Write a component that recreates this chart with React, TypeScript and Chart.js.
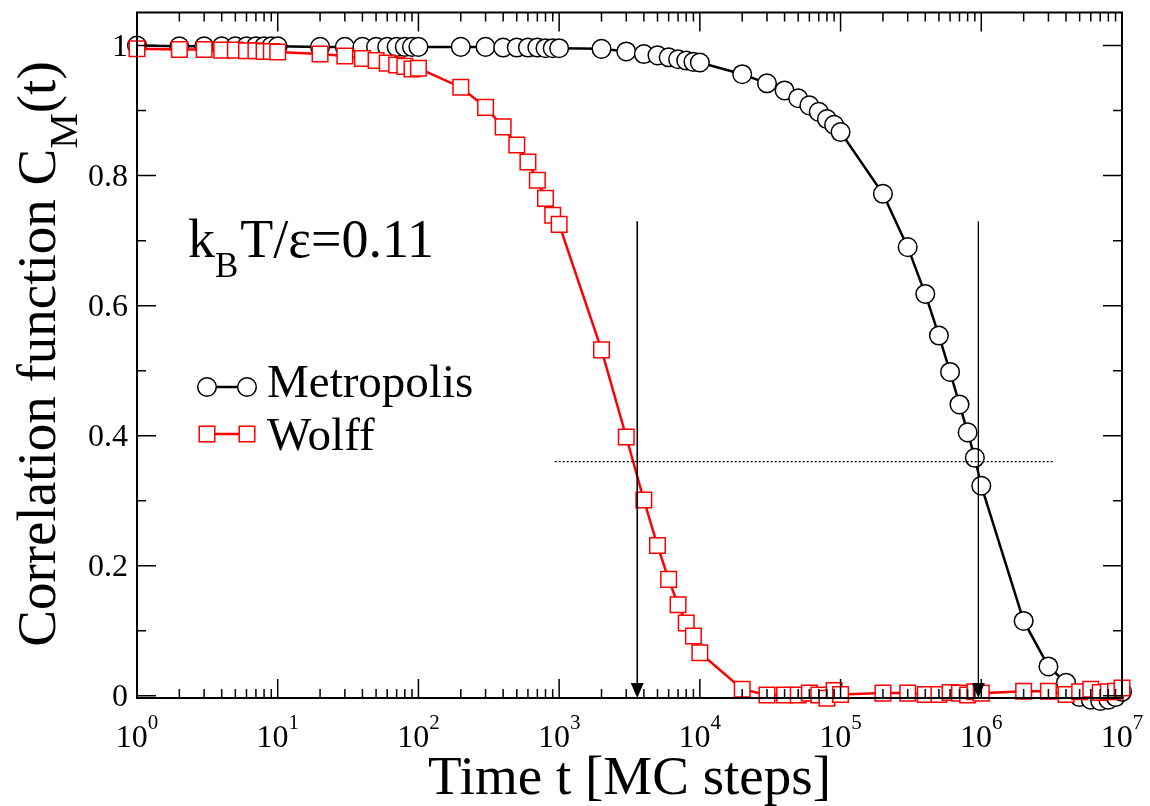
import React, { useEffect, useRef } from "react";
import { Chart, registerables } from "chart.js";

Chart.register(...registerables);

// Time steps (MC steps)
const times: number[] = [
  1, 2, 3, 4, 5, 6, 7, 8, 9, 10,
  20, 30, 40, 50, 60, 70, 80, 90, 100,
  200, 300, 400, 500, 600, 700, 800, 900, 1000,
  2000, 3000, 4000, 5000, 6000, 7000, 8000, 9000, 10000,
  20000, 30000, 40000, 50000, 60000, 70000, 80000, 90000, 100000,
  200000, 300000, 400000, 500000, 600000, 700000, 800000, 900000, 1000000,
  2000000, 3000000, 4000000, 5000000, 6000000, 7000000, 8000000, 9000000, 10000000,
];

const metropolis: number[] = [
  1.0, 0.999, 0.999, 0.999, 0.999, 0.999, 0.999, 0.999, 0.999, 0.999,
  0.998, 0.998, 0.998, 0.998, 0.998, 0.998, 0.998, 0.998, 0.998,
  0.998, 0.998, 0.997, 0.997, 0.997, 0.997, 0.996, 0.996, 0.996,
  0.995, 0.991, 0.987, 0.985, 0.982, 0.979, 0.977, 0.975, 0.974,
  0.956, 0.942, 0.931, 0.919, 0.908, 0.898, 0.887, 0.878, 0.867,
  0.772, 0.690, 0.618, 0.554, 0.498, 0.448, 0.405, 0.366, 0.323,
  0.115, 0.045, 0.020, -0.002, -0.006, -0.008, -0.006, -0.002, 0.006,
];

const wolff: number[] = [
  0.995, 0.994, 0.994, 0.993, 0.993, 0.992, 0.992, 0.991, 0.991, 0.990,
  0.987, 0.984, 0.980, 0.977, 0.973, 0.970, 0.968, 0.964, 0.965,
  0.936, 0.905, 0.875, 0.847, 0.821, 0.793, 0.765, 0.739, 0.725,
  0.532, 0.398, 0.301, 0.231, 0.179, 0.140, 0.112, 0.092, 0.066,
  0.010, 0.001, 0.001, 0.001, 0.004, 0.001, -0.004, 0.008, 0.002,
  0.004, 0.004, 0.002, 0.002, 0.005, 0.004, 0.001, 0.006, 0.004,
  0.007, 0.007, 0.002, 0.006, 0.010, 0.005, 0.006, 0.007, 0.012,
];

// Annotations (in data units)
const arrowTimes: number[] = [3590, 953000];
const arrowTop = 0.73;
const arrowTip = -0.0035;
const thresholdValue = 0.36;
const thresholdFrom = 930;
const thresholdTo = 3250000;

// Axis ticks
const xExponents: number[] = [0, 1, 2, 3, 4, 5, 6, 7];
const yTickValues: number[] = [0, 0.2, 0.4, 0.6, 0.8, 1.0];
const yTickLabels: string[] = ["0", "0.2", "0.4", "0.6", "0.8", "1"];
const yMinorValues: number[] = [0.1, 0.3, 0.5, 0.7, 0.9];

const seriesNames: string[] = ["Metropolis", "Wolff"];

const SERIF = '"Liberation Serif", "Times New Roman", serif';

const decorPlugin = {
  id: "decor",
  afterDatasetsDraw(chart: any) {
    const ctx: CanvasRenderingContext2D = chart.ctx;
    const xs = chart.scales.x;
    const ys = chart.scales.y;
    const { left, right, top, bottom } = chart.chartArea;
    ctx.save();

    // threshold dotted line
    ctx.strokeStyle = "#000";
    ctx.lineWidth = 1.3;
    ctx.setLineDash([2, 2]);
    const ty = ys.getPixelForValue(thresholdValue);
    ctx.beginPath();
    ctx.moveTo(xs.getPixelForValue(thresholdFrom), ty);
    ctx.lineTo(xs.getPixelForValue(thresholdTo), ty);
    ctx.stroke();
    ctx.setLineDash([]);

    // arrows
    const arrowWidths = [1.6, 1.3];
    arrowTimes.forEach((t, i) => {
      const x = xs.getPixelForValue(t);
      const y0 = ys.getPixelForValue(arrowTop);
      const y1 = ys.getPixelForValue(arrowTip);
      ctx.lineWidth = arrowWidths[i];
      ctx.beginPath();
      ctx.moveTo(x, y0);
      ctx.lineTo(x, y1 - 10);
      ctx.stroke();
      ctx.fillStyle = "#000";
      ctx.beginPath();
      ctx.moveTo(x - 6.5, y1 - 15);
      ctx.lineTo(x + 6.5, y1 - 15);
      ctx.lineTo(x, y1);
      ctx.closePath();
      ctx.fill();
    });

    // frame
    ctx.lineWidth = 2;
    ctx.strokeStyle = "#000";
    ctx.strokeRect(left, top, right - left, bottom - top);

    // x ticks (log)
    ctx.lineWidth = 1.5;
    ctx.beginPath();
    xExponents.forEach((e) => {
      const x = xs.getPixelForValue(Math.pow(10, e));
      ctx.moveTo(x, bottom);
      ctx.lineTo(x, bottom - 19);
      ctx.moveTo(x, top);
      ctx.lineTo(x, top + 19);
      if (e < 7) {
        for (let m = 2; m <= 9; m++) {
          const xm = xs.getPixelForValue(m * Math.pow(10, e));
          ctx.moveTo(xm, bottom);
          ctx.lineTo(xm, bottom - 9);
          ctx.moveTo(xm, top);
          ctx.lineTo(xm, top + 9);
        }
      }
    });
    // y ticks
    yTickValues.forEach((v) => {
      const y = ys.getPixelForValue(v);
      ctx.moveTo(left, y);
      ctx.lineTo(left + 19, y);
      ctx.moveTo(right, y);
      ctx.lineTo(right - 19, y);
    });
    yMinorValues.forEach((v) => {
      const y = ys.getPixelForValue(v);
      ctx.moveTo(left, y);
      ctx.lineTo(left + 9, y);
      ctx.moveTo(right, y);
      ctx.lineTo(right - 9, y);
    });
    ctx.stroke();

    // y tick labels
    ctx.fillStyle = "#000";
    ctx.font = `32px ${SERIF}`;
    ctx.textAlign = "right";
    ctx.textBaseline = "alphabetic";
    yTickValues.forEach((v, i) => {
      const y = ys.getPixelForValue(v);
      ctx.fillText(yTickLabels[i], left - 9, y + 10.5);
    });

    // x tick labels 10^e
    ctx.textAlign = "left";
    xExponents.forEach((e) => {
      const x = xs.getPixelForValue(Math.pow(10, e));
      ctx.font = `32px ${SERIF}`;
      const wb = ctx.measureText("10").width;
      ctx.font = `21px ${SERIF}`;
      const we = ctx.measureText(String(e)).width;
      const sx = x - (wb + we) / 2;
      ctx.font = `32px ${SERIF}`;
      ctx.fillText("10", sx, 747);
      ctx.font = `21px ${SERIF}`;
      ctx.fillText(String(e), sx + wb, 729);
    });

    // x axis title
    ctx.font = `55px ${SERIF}`;
    ctx.textAlign = "center";
    ctx.fillText("Time t [MC steps]", (left + right) / 2, 794);

    // y axis title (rotated, with subscript)
    ctx.save();
    ctx.translate(55, 354);
    ctx.rotate(-Math.PI / 2);
    ctx.textAlign = "left";
    const p1 = "Correlation function C";
    const p2 = "M";
    const p3 = "(t)";
    ctx.font = `55px ${SERIF}`;
    const w1 = ctx.measureText(p1).width;
    const w3 = ctx.measureText(p3).width;
    ctx.font = `40px ${SERIF}`;
    const w2 = ctx.measureText(p2).width;
    let cx = -(w1 + w2 + w3) / 2;
    ctx.font = `55px ${SERIF}`;
    ctx.fillText(p1, cx, 0);
    cx += w1;
    ctx.font = `40px ${SERIF}`;
    ctx.fillText(p2, cx, 22);
    cx += w2;
    ctx.font = `55px ${SERIF}`;
    ctx.fillText(p3, cx, 0);
    ctx.restore();

    // temperature annotation
    ctx.textAlign = "left";
    let kx = 188;
    ctx.font = `54px ${SERIF}`;
    ctx.fillText("k", kx, 257);
    kx += ctx.measureText("k").width;
    ctx.font = `35px ${SERIF}`;
    ctx.fillText("B", kx, 277);
    kx += ctx.measureText("B").width + 2;
    ctx.font = `54px ${SERIF}`;
    ctx.fillText("T/\u03B5=0.11", kx, 257);

    // legend
    const legendRows = [
      { y: 387, textY: 397 },
      { y: 434, textY: 450 },
    ];
    chart.data.datasets.forEach((ds: any, i: number) => {
      const row = legendRows[i];
      const x0 = 207;
      const x1 = 247;
      ctx.strokeStyle = ds.borderColor;
      ctx.lineWidth = ds.borderWidth;
      ctx.beginPath();
      ctx.moveTo(x0, row.y);
      ctx.lineTo(x1, row.y);
      ctx.stroke();
      [x0, x1].forEach((px) => {
        ctx.fillStyle = "#fff";
        ctx.strokeStyle = ds.pointBorderColor;
        ctx.lineWidth = ds.pointBorderWidth;
        ctx.beginPath();
        if (ds.pointStyle === "circle") {
          ctx.arc(px, row.y, 9.3, 0, Math.PI * 2);
        } else {
          ctx.rect(px - 7.8, row.y - 7.8, 15.6, 15.6);
        }
        ctx.fill();
        ctx.stroke();
      });
      ctx.fillStyle = "#000";
      ctx.font = `47px ${SERIF}`;
      ctx.fillText(seriesNames[i], 267, row.textY);
    });

    ctx.restore();
  },
};

export default function App() {
  const canvasRef = useRef<HTMLCanvasElement | null>(null);

  useEffect(() => {
    if (!canvasRef.current) return;
    const chart = new Chart(canvasRef.current, {
      type: "line",
      data: {
        datasets: [
          {
            label: seriesNames[0],
            data: times.map((t, i) => ({ x: t, y: metropolis[i] })),
            borderColor: "#000000",
            borderWidth: 2.5,
            pointStyle: "circle",
            pointRadius: 9.3,
            pointBackgroundColor: "#ffffff",
            pointBorderColor: "#000000",
            pointBorderWidth: 1.5,
            tension: 0,
            clip: false as any,
            order: 2,
          },
          {
            label: seriesNames[1],
            data: times.map((t, i) => ({ x: t, y: wolff[i] })),
            borderColor: "#ff0000",
            borderWidth: 2.5,
            pointStyle: "rect",
            pointRadius: 11,
            pointBackgroundColor: "#ffffff",
            pointBorderColor: "#ff0000",
            pointBorderWidth: 1.5,
            tension: 0,
            clip: false as any,
            order: 1,
          },
        ],
      },
      options: {
        responsive: false,
        animation: false,
        events: [],
        devicePixelRatio: 1,
        layout: { padding: { left: 137, right: 28, top: 10, bottom: 108 } },
        plugins: {
          legend: { display: false },
          tooltip: { enabled: false },
          title: { display: false },
        },
        scales: {
          x: { type: "logarithmic", min: 1, max: 10000000, display: false },
          y: { type: "linear", min: -0.0035, max: 1.0509, display: false },
        },
      },
      plugins: [decorPlugin],
    });
    return () => chart.destroy();
  }, []);

  return (
    <div style={{ position: "absolute", left: 0, top: 0, width: 1150, height: 806, background: "#fff" }}>
      <canvas ref={canvasRef} width={1150} height={806} style={{ display: "block" }} />
    </div>
  );
}
